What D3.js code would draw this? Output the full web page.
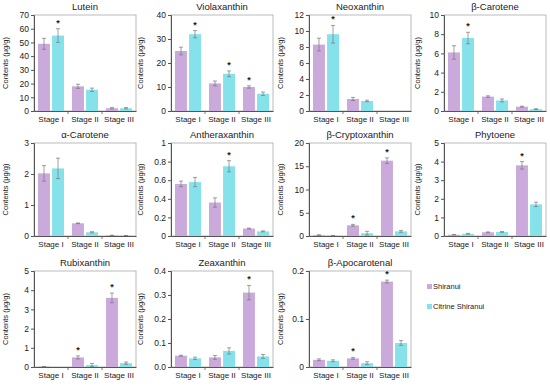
<!DOCTYPE html>
<head>
  <meta charset="utf-8">
  <script src="https://cdnjs.cloudflare.com/ajax/libs/d3/7.8.5/d3.min.js"></script>
</head>

<style>
body {
  margin: 0;
  background-color: #fff;
}
svg text {
  font-family: "Liberation Sans", Arial, sans-serif;
  fill: #222;
}
</style>

<body>
  <svg id='chart' width='550' height='387'></svg>
</body>

<script>

var stages = ['Stage I', 'Stage II', 'Stage III'];
var series = ['Shiranui', 'Citrine Shiranui'];
var colours = ['#c9aadb', '#86e2ea'];

var names = ['Lutein', 'Violaxanthin', 'Neoxanthin', 'β-Carotene',
             'α-Carotene', 'Antheraxanthin', 'β-Cryptoxanthin', 'Phytoene',
             'Rubixanthin', 'Zeaxanthin', 'β-Apocarotenal'];

// means, one row per pigment: [stage I, II, III]
var shiranui = [[49, 18, 2], [25, 11.5, 10], [8.3, 1.5, 0], [6.1, 1.5, 0.45],
                [2.02, 0.41, 0.02], [0.56, 0.36, 0.08], [0.2, 2.3, 16.2], [0.07, 0.2, 3.8],
                [0.02, 0.5, 3.6], [0.047, 0.04, 0.31], [0.015, 0.018, 0.178]];
var shiranui_err = [[4, 1.5, 0.5], [1.6, 1, 0.5], [0.8, 0.2, 0], [0.7, 0.08, 0.05],
                    [0.25, 0.01, 0.005], [0.03, 0.05, 0.005], [0.05, 0.2, 0.6], [0.01, 0.02, 0.2],
                    [0, 0.08, 0.25], [0.002, 0.008, 0.03], [0.002, 0.002, 0.003]];
var citrine = [[55, 15.5, 2], [32, 15.5, 7.2], [9.6, 1.25, 0], [7.6, 1.1, 0.2],
               [2.18, 0.12, 0.015], [0.58, 0.75, 0.05], [0.1, 0.6, 1.0], [0.12, 0.22, 1.7],
               [0, 0.1, 0.2], [0.036, 0.067, 0.044], [0.013, 0.008, 0.05]];
var citrine_err = [[5, 1.2, 0.5], [1.5, 1.2, 0.7], [1.1, 0.1, 0], [0.6, 0.15, 0.04],
                   [0.33, 0.02, 0], [0.05, 0.06, 0.005], [0.02, 0.4, 0.2], [0.02, 0.02, 0.12],
                   [0, 0.08, 0.06], [0.005, 0.013, 0.008], [0.002, 0.003, 0.005]];

// significance marks: [series index, stage index]
var stars = [[[1, 0]], [[1, 0], [1, 1], [0, 2]], [[1, 0]], [[1, 0]],
             [], [[1, 1]], [[0, 1], [0, 2]], [[0, 2]],
             [[0, 1], [0, 2]], [[0, 2]], [[0, 1], [0, 2]]];

var y_max = [70, 40, 12, 10, 3, 1, 20, 5, 5, 0.4, 0.2];
var y_step = [10, 10, 2, 2, 1, 0.2, 5, 1, 1, 0.1, 0.1];
var y_fmt = ['d', 'd', 'd', 'd', 'd', '.1~f', 'd', 'd', 'd', '.1f', '.1~f'];

var col_x = [34, 171, 309, 444];
var row_top = [15, 143, 271];
var row_bottom = [111, 236, 367];
var pw = 102;

var svg = d3.select('#chart');

names.forEach(function(name, k) {
  var c = k % 4, r = Math.floor(k / 4);
  var h = row_bottom[r] - row_top[r];
  var g = svg.append('g').attr('transform', 'translate(' + col_x[c] + ',' + row_top[r] + ')');

  var x = d3.scaleBand().domain(stages).range([0, pw]);
  var xs = d3.scaleBand().domain(series).range([4, x.bandwidth() - 4]).paddingInner(0.15);
  var y = d3.scaleLinear().domain([0, y_max[k]]).range([h, 0]);

  // frame
  g.append('rect')
    .attr('x', 0).attr('y', 0).attr('width', pw).attr('height', h)
    .attr('fill', 'none').attr('stroke', '#aaa').attr('stroke-width', 0.8);

  var ticks = d3.range(0, y_max[k] + y_step[k] / 2, y_step[k]);
  var ya = g.append('g')
    .call(d3.axisLeft(y).tickValues(ticks).tickSize(3).tickFormat(d3.format(y_fmt[k])));
  ya.selectAll('text').style('font-size', '8.5px').attr('x', -5);
  ya.select('.domain').attr('stroke', '#555');
  ya.selectAll('line').attr('stroke', '#555');

  var xa = g.append('g').attr('transform', 'translate(0,' + h + ')')
    .call(d3.axisBottom(x).tickSize(0).tickPadding(5));
  xa.selectAll('text').style('font-size', '8px');
  xa.select('.domain').attr('stroke', '#555');
  // small marks between categories
  g.selectAll('.sep').data(stages.slice(1)).enter().append('line')
    .attr('x1', function(d) { return x(d); }).attr('x2', function(d) { return x(d); })
    .attr('y1', h).attr('y2', h + 3).attr('stroke', '#555').attr('stroke-width', 0.8);

  var rows = [];
  stages.forEach(function(s, i) {
    rows.push({ stage: s, ser: 0, v: shiranui[k][i], e: shiranui_err[k][i] });
    rows.push({ stage: s, ser: 1, v: citrine[k][i], e: citrine_err[k][i] });
  });

  g.selectAll('.bar').data(rows).enter().append('rect')
    .attr('x', function(d) { return x(d.stage) + xs(series[d.ser]); })
    .attr('y', function(d) { return y(d.v); })
    .attr('width', xs.bandwidth())
    .attr('height', function(d) { return h - y(d.v); })
    .attr('fill', function(d) { return colours[d.ser]; });

  var eb = g.selectAll('.err').data(rows.filter(function(d) { return d.v > 0; })).enter().append('g')
    .attr('stroke', '#777').attr('stroke-width', 0.7);
  eb.append('line')
    .attr('x1', function(d) { return x(d.stage) + xs(series[d.ser]) + xs.bandwidth() / 2; })
    .attr('x2', function(d) { return x(d.stage) + xs(series[d.ser]) + xs.bandwidth() / 2; })
    .attr('y1', function(d) { return y(d.v + d.e); })
    .attr('y2', function(d) { return y(Math.max(0, d.v - d.e)); });
  [1, -1].forEach(function(sgn) {
    eb.append('line')
      .attr('x1', function(d) { return x(d.stage) + xs(series[d.ser]) + xs.bandwidth() / 2 - 2; })
      .attr('x2', function(d) { return x(d.stage) + xs(series[d.ser]) + xs.bandwidth() / 2 + 2; })
      .attr('y1', function(d) { return y(Math.max(0, d.v + sgn * d.e)); })
      .attr('y2', function(d) { return y(Math.max(0, d.v + sgn * d.e)); });
  });

  g.selectAll('.star').data(stars[k]).enter().append('text')
    .attr('x', function(d) { return x(stages[d[1]]) + xs(series[d[0]]) + xs.bandwidth() / 2; })
    .attr('y', function(d) {
      var v = d[0] === 0 ? shiranui[k][d[1]] + shiranui_err[k][d[1]] : citrine[k][d[1]] + citrine_err[k][d[1]];
      return y(v) - 3;
    })
    .attr('text-anchor', 'middle')
    .style('font-size', '9px').style('font-weight', 'bold')
    .text('*');

  g.append('text')
    .attr('x', pw / 2).attr('y', -5)
    .attr('text-anchor', 'middle')
    .style('font-size', '9.5px')
    .text(name);

  var lx = [-26, -28, -26, -24][c];
  g.append('text')
    .attr('transform', 'translate(' + lx + ',' + (h / 2) + ') rotate(-90)')
    .attr('text-anchor', 'middle')
    .style('font-size', '7.5px')
    .text('Contents (μg/g)');
});

// legend
var lg = svg.append('g').attr('transform', 'translate(427,284)');
series.forEach(function(s, i) {
  lg.append('rect').attr('x', 0).attr('y', i * 20).attr('width', 5).attr('height', 5)
    .attr('fill', colours[i]);
  lg.append('text').attr('x', 6).attr('y', i * 20 + 5)
    .style('font-size', '7.5px').text(s);
});

</script>
